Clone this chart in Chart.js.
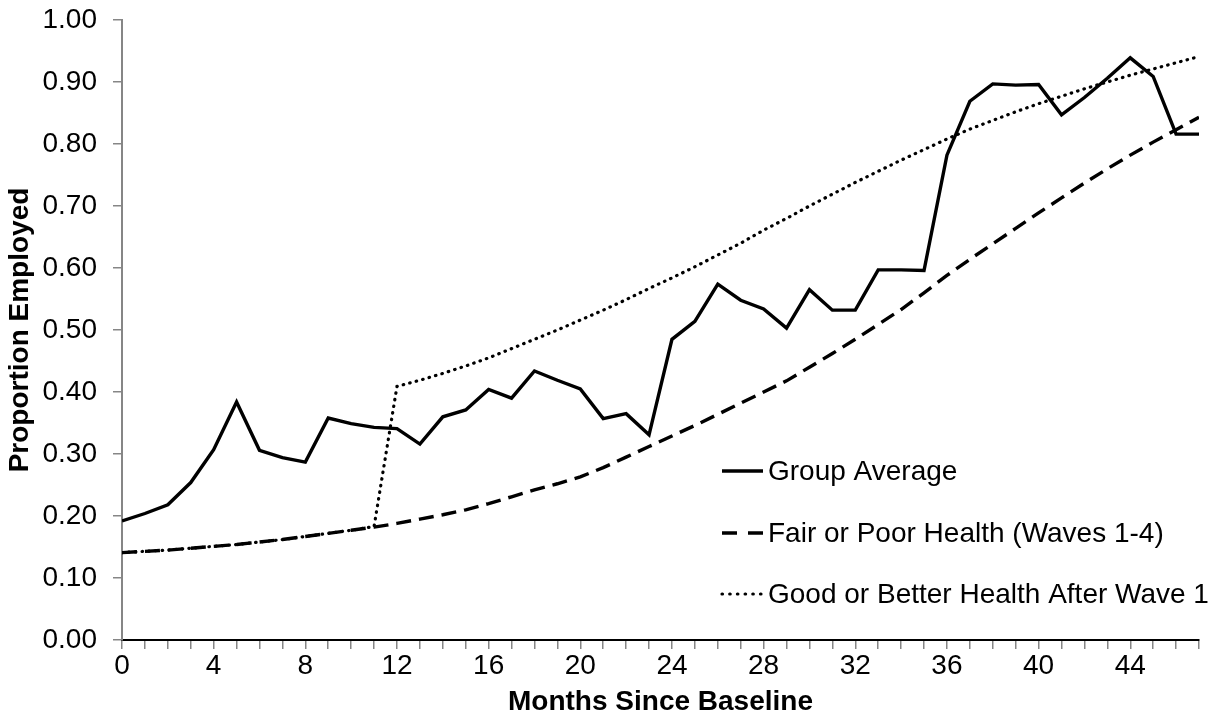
<!DOCTYPE html>
<html>
<head>
    <meta charset="UTF-8">
    <title>Proportion Employed</title>
    <script src="https://cdn.jsdelivr.net/npm/chart.js"></script>
    <style>
        html, body { margin: 0; padding: 0; background: #fff; }
    </style>
</head>
<body>
    <canvas id="empChart" width="1225" height="728"></canvas>
    <script>
        // months since baseline
        const months = [0, 1, 2, 3, 4, 5, 6, 7, 8, 9, 10, 11, 12, 13, 14, 15, 16, 17, 18, 19, 20, 21, 22, 23,
            24, 25, 26, 27, 28, 29, 30, 31, 32, 33, 34, 35, 36, 37, 38, 39, 40, 41, 42, 43, 44, 45, 46, 47];
        const xTickLabels = ['0', '4', '8', '12', '16', '20', '24', '28', '32', '36', '40', '44'];

        const groupAverage = [0.192, 0.204, 0.218, 0.254, 0.307, 0.384, 0.306, 0.294, 0.287, 0.358,
            0.349, 0.343, 0.341, 0.316, 0.360, 0.371, 0.404, 0.390, 0.434, 0.419,
            0.405, 0.357, 0.365, 0.331, 0.485, 0.514, 0.574, 0.548, 0.534, 0.503,
            0.565, 0.532, 0.532, 0.597, 0.597, 0.596, 0.782, 0.869, 0.897, 0.895,
            0.896, 0.847, 0.875, 0.906, 0.939, 0.909, 0.816, 0.816];
        const fairPoor = [0.141, 0.143, 0.145, 0.148, 0.151, 0.154, 0.158, 0.162, 0.167, 0.172,
            0.177, 0.182, 0.188, 0.195, 0.202, 0.210, 0.220, 0.231, 0.242, 0.252,
            0.263, 0.278, 0.295, 0.312, 0.329, 0.346, 0.364, 0.382, 0.400, 0.418,
            0.440, 0.462, 0.485, 0.509, 0.533, 0.560, 0.588, 0.614, 0.639, 0.664,
            0.689, 0.713, 0.737, 0.760, 0.782, 0.803, 0.823, 0.843];
        const goodBetter = [0.141, 0.143, 0.145, 0.148, 0.151, 0.154, 0.158, 0.162, 0.167, 0.172,
            0.177, 0.183, 0.409, 0.419, 0.430, 0.442, 0.455, 0.470, 0.485, 0.500,
            0.516, 0.532, 0.549, 0.567, 0.584, 0.602, 0.621, 0.640, 0.661, 0.680,
            0.700, 0.719, 0.738, 0.756, 0.774, 0.791, 0.808, 0.824, 0.838, 0.852,
            0.865, 0.877, 0.889, 0.900, 0.911, 0.921, 0.931, 0.941];

        const seriesNames = ['Group Average', 'Fair or Poor Health (Waves 1-4)', 'Good or Better Health After Wave 1'];

        Chart.defaults.font.family = '"Liberation Sans", Arial, sans-serif';
        Chart.defaults.color = '#000';

        function pts(vals) {
            return months.map(function (m, i) { return { x: m, y: vals[i] }; });
        }

        // legend drawn inside the plot, lower right
        const insideLegend = {
            id: 'insideLegend',
            afterDraw(chart) {
                const ctx = chart.ctx;
                const rows = [471, 533, 594];
                const x0 = 722, x1 = 763;
                chart.data.datasets.forEach(function (ds, i) {
                    const y = rows[i];
                    ctx.save();
                    ctx.strokeStyle = ds.borderColor;
                    ctx.lineWidth = ds.borderWidth;
                    ctx.lineCap = ds.borderCapStyle || 'butt';
                    ctx.setLineDash(ds.legendDash || []);
                    ctx.beginPath();
                    ctx.moveTo(x0, y);
                    ctx.lineTo(x1, y);
                    ctx.stroke();
                    ctx.restore();
                    ctx.save();
                    ctx.font = '28px "Liberation Sans", Arial, sans-serif';
                    ctx.fillStyle = '#000';
                    ctx.textBaseline = 'middle';
                    ctx.fillText(ds.label, 768, y + 1);
                    ctx.restore();
                });
            }
        };

        const ctx = document.getElementById('empChart').getContext('2d');
        const empChart = new Chart(ctx, {
            type: 'line',
            data: {
                datasets: [
                    {
                        label: seriesNames[0],
                        data: pts(groupAverage),
                        borderColor: '#000',
                        borderWidth: 3.4,
                        pointRadius: 0,
                        tension: 0
                    },
                    {
                        label: seriesNames[1],
                        data: pts(fairPoor),
                        borderColor: '#000',
                        borderWidth: 3.4,
                        borderDash: [15, 8],
                        legendDash: [15, 11],
                        pointRadius: 0,
                        tension: 0
                    },
                    {
                        label: seriesNames[2],
                        data: pts(goodBetter),
                        borderColor: '#000',
                        borderWidth: 3.2,
                        borderCapStyle: 'round',
                        borderDash: [0.5, 6.2],
                        legendDash: [0.5, 7.2],
                        pointRadius: 0,
                        tension: 0
                    }
                ]
            },
            options: {
                responsive: false,
                animation: false,
                layout: { padding: { left: 0, right: 26, top: 20, bottom: 0 } },
                plugins: {
                    legend: { display: false },
                    tooltip: { enabled: false }
                },
                scales: {
                    x: {
                        type: 'linear',
                        min: 0,
                        max: 47,
                        grid: { drawOnChartArea: false, tickLength: 9, color: '#868686', lineWidth: 1.5 },
                        border: { color: '#000', width: 2 },
                        ticks: {
                            stepSize: 1,
                            autoSkip: false,
                            maxRotation: 0,
                            padding: 0,
                            font: { size: 28 },
                            callback: function (v) {
                                return xTickLabels.indexOf(String(v)) >= 0 ? String(v) : '';
                            }
                        },
                        title: {
                            display: true,
                            text: 'Months Since Baseline',
                            font: { size: 28, weight: 'bold' },
                            padding: { top: 0, bottom: 9 }
                        },
                        afterFit: function (scale) {
                            scale.height = 88;
                            scale.paddingLeft = 0;
                            scale.paddingRight = 0;
                        }
                    },
                    y: {
                        min: 0,
                        max: 1,
                        grid: { drawOnChartArea: false, tickLength: 9, color: '#868686', lineWidth: 1.5 },
                        border: { color: '#868686', width: 2 },
                        ticks: {
                            stepSize: 0.1,
                            padding: 16,
                            font: { size: 28 },
                            callback: function (v) { return v.toFixed(2); }
                        },
                        title: {
                            display: true,
                            text: 'Proportion Employed',
                            font: { size: 28, weight: 'bold' },
                            padding: { top: 3, bottom: 0 }
                        },
                        afterFit: function (scale) {
                            scale.width = 122;
                            scale.paddingTop = 0;
                            scale.paddingBottom = 0;
                        }
                    }
                }
            },
            plugins: [insideLegend]
        });
    </script>
</body>
</html>
